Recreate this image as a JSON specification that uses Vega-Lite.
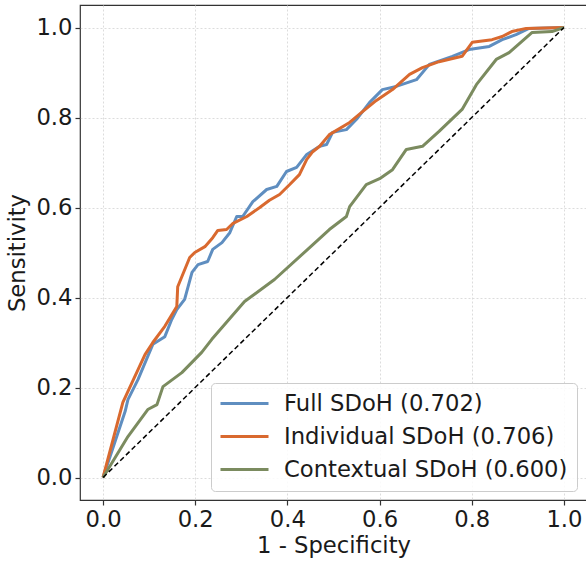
{
  "$schema": "https://vega.github.io/schema/vega-lite/v6.json",
  "width": 507,
  "height": 495,
  "autosize": "none",
  "padding": {"left": 80, "top": 5, "right": 0, "bottom": 62},
  "background": "white",
  "config": {
    "font": "DejaVu Sans",
    "view": {"stroke": "#333333", "strokeWidth": 1.2},
    "axis": {
      "labelFont": "DejaVu Sans",
      "titleFont": "DejaVu Sans",
      "labelFontSize": 22.7,
      "titleFontSize": 22.7,
      "titleFontWeight": "normal",
      "labelColor": "#1a1a1a",
      "titleColor": "#1a1a1a",
      "domain": false,
      "tickColor": "#333333",
      "tickSize": 5,
      "tickWidth": 1.2,
      "labelPadding": 3,
      "grid": true,
      "gridColor": "#d8d8d8",
      "gridDash": [2, 2],
      "gridWidth": 0.9
    },
    "legend": {
      "labelFont": "DejaVu Sans",
      "labelFontSize": 22.7,
      "labelColor": "#1a1a1a",
      "labelLimit": 0
    }
  },
  "datasets": {
    "roc": [
      {"model": "Full SDoH (0.702)", "i": 0, "fpr": 0.0, "tpr": 0.0},
      {"model": "Full SDoH (0.702)", "i": 1, "fpr": 0.048, "tpr": 0.147},
      {"model": "Full SDoH (0.702)", "i": 2, "fpr": 0.054, "tpr": 0.173},
      {"model": "Full SDoH (0.702)", "i": 3, "fpr": 0.076, "tpr": 0.218},
      {"model": "Full SDoH (0.702)", "i": 4, "fpr": 0.097, "tpr": 0.269},
      {"model": "Full SDoH (0.702)", "i": 5, "fpr": 0.108, "tpr": 0.296},
      {"model": "Full SDoH (0.702)", "i": 6, "fpr": 0.134, "tpr": 0.313},
      {"model": "Full SDoH (0.702)", "i": 7, "fpr": 0.149, "tpr": 0.351},
      {"model": "Full SDoH (0.702)", "i": 8, "fpr": 0.160, "tpr": 0.373},
      {"model": "Full SDoH (0.702)", "i": 9, "fpr": 0.177, "tpr": 0.396},
      {"model": "Full SDoH (0.702)", "i": 10, "fpr": 0.193, "tpr": 0.456},
      {"model": "Full SDoH (0.702)", "i": 11, "fpr": 0.206, "tpr": 0.473},
      {"model": "Full SDoH (0.702)", "i": 12, "fpr": 0.227, "tpr": 0.480},
      {"model": "Full SDoH (0.702)", "i": 13, "fpr": 0.238, "tpr": 0.507},
      {"model": "Full SDoH (0.702)", "i": 14, "fpr": 0.258, "tpr": 0.522},
      {"model": "Full SDoH (0.702)", "i": 15, "fpr": 0.275, "tpr": 0.544},
      {"model": "Full SDoH (0.702)", "i": 16, "fpr": 0.290, "tpr": 0.580},
      {"model": "Full SDoH (0.702)", "i": 17, "fpr": 0.303, "tpr": 0.580},
      {"model": "Full SDoH (0.702)", "i": 18, "fpr": 0.325, "tpr": 0.613},
      {"model": "Full SDoH (0.702)", "i": 19, "fpr": 0.355, "tpr": 0.640},
      {"model": "Full SDoH (0.702)", "i": 20, "fpr": 0.377, "tpr": 0.647},
      {"model": "Full SDoH (0.702)", "i": 21, "fpr": 0.398, "tpr": 0.680},
      {"model": "Full SDoH (0.702)", "i": 22, "fpr": 0.420, "tpr": 0.689},
      {"model": "Full SDoH (0.702)", "i": 23, "fpr": 0.442, "tpr": 0.718},
      {"model": "Full SDoH (0.702)", "i": 24, "fpr": 0.470, "tpr": 0.736},
      {"model": "Full SDoH (0.702)", "i": 25, "fpr": 0.485, "tpr": 0.740},
      {"model": "Full SDoH (0.702)", "i": 26, "fpr": 0.498, "tpr": 0.767},
      {"model": "Full SDoH (0.702)", "i": 27, "fpr": 0.528, "tpr": 0.773},
      {"model": "Full SDoH (0.702)", "i": 28, "fpr": 0.550, "tpr": 0.796},
      {"model": "Full SDoH (0.702)", "i": 29, "fpr": 0.578, "tpr": 0.833},
      {"model": "Full SDoH (0.702)", "i": 30, "fpr": 0.606, "tpr": 0.862},
      {"model": "Full SDoH (0.702)", "i": 31, "fpr": 0.636, "tpr": 0.869},
      {"model": "Full SDoH (0.702)", "i": 32, "fpr": 0.680, "tpr": 0.884},
      {"model": "Full SDoH (0.702)", "i": 33, "fpr": 0.708, "tpr": 0.918},
      {"model": "Full SDoH (0.702)", "i": 34, "fpr": 0.758, "tpr": 0.936},
      {"model": "Full SDoH (0.702)", "i": 35, "fpr": 0.794, "tpr": 0.951},
      {"model": "Full SDoH (0.702)", "i": 36, "fpr": 0.838, "tpr": 0.958},
      {"model": "Full SDoH (0.702)", "i": 37, "fpr": 0.866, "tpr": 0.973},
      {"model": "Full SDoH (0.702)", "i": 38, "fpr": 0.896, "tpr": 0.984},
      {"model": "Full SDoH (0.702)", "i": 39, "fpr": 0.924, "tpr": 0.998},
      {"model": "Full SDoH (0.702)", "i": 40, "fpr": 1.0, "tpr": 1.0},

      {"model": "Individual SDoH (0.706)", "i": 0, "fpr": 0.0, "tpr": 0.0},
      {"model": "Individual SDoH (0.706)", "i": 1, "fpr": 0.043, "tpr": 0.167},
      {"model": "Individual SDoH (0.706)", "i": 2, "fpr": 0.091, "tpr": 0.273},
      {"model": "Individual SDoH (0.706)", "i": 3, "fpr": 0.108, "tpr": 0.300},
      {"model": "Individual SDoH (0.706)", "i": 4, "fpr": 0.134, "tpr": 0.336},
      {"model": "Individual SDoH (0.706)", "i": 5, "fpr": 0.160, "tpr": 0.380},
      {"model": "Individual SDoH (0.706)", "i": 6, "fpr": 0.162, "tpr": 0.424},
      {"model": "Individual SDoH (0.706)", "i": 7, "fpr": 0.188, "tpr": 0.489},
      {"model": "Individual SDoH (0.706)", "i": 8, "fpr": 0.199, "tpr": 0.500},
      {"model": "Individual SDoH (0.706)", "i": 9, "fpr": 0.221, "tpr": 0.513},
      {"model": "Individual SDoH (0.706)", "i": 10, "fpr": 0.238, "tpr": 0.533},
      {"model": "Individual SDoH (0.706)", "i": 11, "fpr": 0.249, "tpr": 0.549},
      {"model": "Individual SDoH (0.706)", "i": 12, "fpr": 0.268, "tpr": 0.551},
      {"model": "Individual SDoH (0.706)", "i": 13, "fpr": 0.281, "tpr": 0.564},
      {"model": "Individual SDoH (0.706)", "i": 14, "fpr": 0.312, "tpr": 0.580},
      {"model": "Individual SDoH (0.706)", "i": 15, "fpr": 0.340, "tpr": 0.600},
      {"model": "Individual SDoH (0.706)", "i": 16, "fpr": 0.361, "tpr": 0.616},
      {"model": "Individual SDoH (0.706)", "i": 17, "fpr": 0.383, "tpr": 0.629},
      {"model": "Individual SDoH (0.706)", "i": 18, "fpr": 0.405, "tpr": 0.651},
      {"model": "Individual SDoH (0.706)", "i": 19, "fpr": 0.426, "tpr": 0.673},
      {"model": "Individual SDoH (0.706)", "i": 20, "fpr": 0.442, "tpr": 0.707},
      {"model": "Individual SDoH (0.706)", "i": 21, "fpr": 0.455, "tpr": 0.724},
      {"model": "Individual SDoH (0.706)", "i": 22, "fpr": 0.470, "tpr": 0.736},
      {"model": "Individual SDoH (0.706)", "i": 23, "fpr": 0.491, "tpr": 0.762},
      {"model": "Individual SDoH (0.706)", "i": 24, "fpr": 0.535, "tpr": 0.789},
      {"model": "Individual SDoH (0.706)", "i": 25, "fpr": 0.563, "tpr": 0.813},
      {"model": "Individual SDoH (0.706)", "i": 26, "fpr": 0.593, "tpr": 0.838},
      {"model": "Individual SDoH (0.706)", "i": 27, "fpr": 0.628, "tpr": 0.862},
      {"model": "Individual SDoH (0.706)", "i": 28, "fpr": 0.665, "tpr": 0.896},
      {"model": "Individual SDoH (0.706)", "i": 29, "fpr": 0.693, "tpr": 0.911},
      {"model": "Individual SDoH (0.706)", "i": 30, "fpr": 0.729, "tpr": 0.924},
      {"model": "Individual SDoH (0.706)", "i": 31, "fpr": 0.779, "tpr": 0.936},
      {"model": "Individual SDoH (0.706)", "i": 32, "fpr": 0.801, "tpr": 0.967},
      {"model": "Individual SDoH (0.706)", "i": 33, "fpr": 0.844, "tpr": 0.973},
      {"model": "Individual SDoH (0.706)", "i": 34, "fpr": 0.866, "tpr": 0.980},
      {"model": "Individual SDoH (0.706)", "i": 35, "fpr": 0.887, "tpr": 0.991},
      {"model": "Individual SDoH (0.706)", "i": 36, "fpr": 0.918, "tpr": 0.998},
      {"model": "Individual SDoH (0.706)", "i": 37, "fpr": 1.0, "tpr": 1.0},

      {"model": "Contextual SDoH (0.600)", "i": 0, "fpr": 0.0, "tpr": 0.0},
      {"model": "Contextual SDoH (0.600)", "i": 1, "fpr": 0.054, "tpr": 0.091},
      {"model": "Contextual SDoH (0.600)", "i": 2, "fpr": 0.097, "tpr": 0.151},
      {"model": "Contextual SDoH (0.600)", "i": 3, "fpr": 0.117, "tpr": 0.162},
      {"model": "Contextual SDoH (0.600)", "i": 4, "fpr": 0.130, "tpr": 0.202},
      {"model": "Contextual SDoH (0.600)", "i": 5, "fpr": 0.171, "tpr": 0.233},
      {"model": "Contextual SDoH (0.600)", "i": 6, "fpr": 0.214, "tpr": 0.278},
      {"model": "Contextual SDoH (0.600)", "i": 7, "fpr": 0.236, "tpr": 0.307},
      {"model": "Contextual SDoH (0.600)", "i": 8, "fpr": 0.307, "tpr": 0.391},
      {"model": "Contextual SDoH (0.600)", "i": 9, "fpr": 0.372, "tpr": 0.440},
      {"model": "Contextual SDoH (0.600)", "i": 10, "fpr": 0.444, "tpr": 0.507},
      {"model": "Contextual SDoH (0.600)", "i": 11, "fpr": 0.491, "tpr": 0.551},
      {"model": "Contextual SDoH (0.600)", "i": 12, "fpr": 0.528, "tpr": 0.580},
      {"model": "Contextual SDoH (0.600)", "i": 13, "fpr": 0.535, "tpr": 0.602},
      {"model": "Contextual SDoH (0.600)", "i": 14, "fpr": 0.571, "tpr": 0.651},
      {"model": "Contextual SDoH (0.600)", "i": 15, "fpr": 0.600, "tpr": 0.664},
      {"model": "Contextual SDoH (0.600)", "i": 16, "fpr": 0.628, "tpr": 0.684},
      {"model": "Contextual SDoH (0.600)", "i": 17, "fpr": 0.658, "tpr": 0.729},
      {"model": "Contextual SDoH (0.600)", "i": 18, "fpr": 0.693, "tpr": 0.736},
      {"model": "Contextual SDoH (0.600)", "i": 19, "fpr": 0.729, "tpr": 0.769},
      {"model": "Contextual SDoH (0.600)", "i": 20, "fpr": 0.779, "tpr": 0.818},
      {"model": "Contextual SDoH (0.600)", "i": 21, "fpr": 0.810, "tpr": 0.873},
      {"model": "Contextual SDoH (0.600)", "i": 22, "fpr": 0.853, "tpr": 0.929},
      {"model": "Contextual SDoH (0.600)", "i": 23, "fpr": 0.881, "tpr": 0.944},
      {"model": "Contextual SDoH (0.600)", "i": 24, "fpr": 0.931, "tpr": 0.989},
      {"model": "Contextual SDoH (0.600)", "i": 25, "fpr": 0.974, "tpr": 0.991},
      {"model": "Contextual SDoH (0.600)", "i": 26, "fpr": 1.0, "tpr": 1.0}
    ],
    "diag": [
      {"fpr": 0, "tpr": 0},
      {"fpr": 1, "tpr": 1}
    ]
  },
  "layer": [
    {
      "data": {"name": "roc"},
      "mark": {"type": "line", "strokeWidth": 3, "strokeJoin": "round"},
      "encoding": {
        "x": {
          "field": "fpr", "type": "quantitative",
          "scale": {"domain": [-0.05, 1.05], "nice": false, "zero": false},
          "axis": {"values": [0, 0.2, 0.4, 0.6, 0.8, 1.0], "format": ".1f", "title": "1 - Specificity", "titlePadding": 4}
        },
        "y": {
          "field": "tpr", "type": "quantitative",
          "scale": {"domain": [-0.05, 1.05], "nice": false, "zero": false},
          "axis": {"values": [0, 0.2, 0.4, 0.6, 0.8, 1.0], "format": ".1f", "title": "Sensitivity", "titlePadding": 6}
        },
        "color": {
          "field": "model", "type": "nominal",
          "scale": {
            "domain": ["Full SDoH (0.702)", "Individual SDoH (0.706)", "Contextual SDoH (0.600)"],
            "range": ["#5f8ec0", "#d9692f", "#7b8b5f"]
          },
          "legend": {
            "title": null,
            "orient": "none",
            "legendX": 131,
            "legendY": 378,
            "symbolType": "M-2.4,0H2.4",
            "symbolSize": 400,
            "symbolStrokeWidth": 3,
            "symbolOffset": 13,
            "labelOffset": 28,
            "labelLimit": 0,
            "rowPadding": 9,
            "padding": 9,
            "fillColor": "rgba(255,255,255,0.85)",
            "strokeColor": "#cccccc",
            "cornerRadius": 4
          }
        },
        "order": {"field": "i", "type": "quantitative"}
      }
    },
    {
      "data": {"name": "diag"},
      "mark": {"type": "line", "color": "black", "strokeWidth": 1.5, "strokeDash": [5, 3]},
      "encoding": {
        "x": {"field": "fpr", "type": "quantitative"},
        "y": {"field": "tpr", "type": "quantitative"}
      }
    }
  ]
}
